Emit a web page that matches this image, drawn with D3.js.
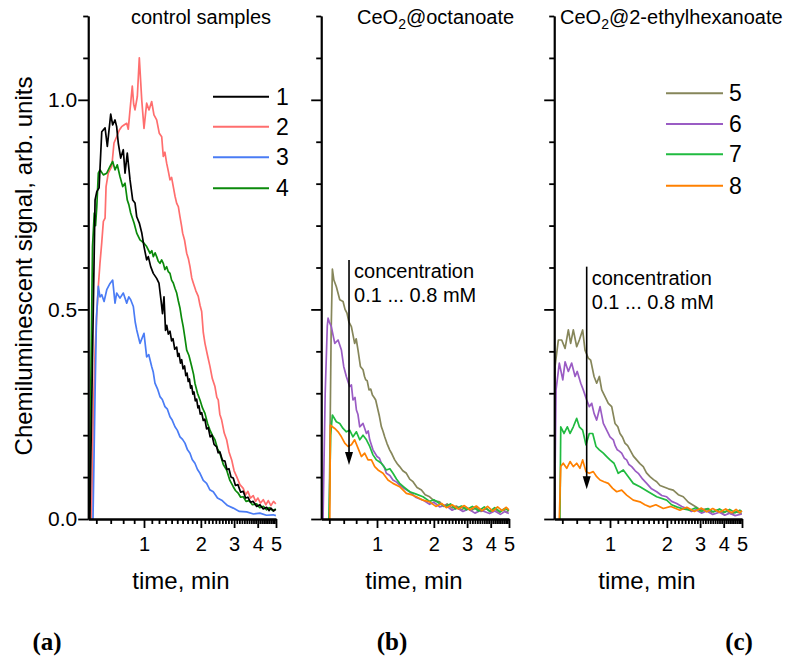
<!DOCTYPE html>
<html><head><meta charset="utf-8">
<script src="https://cdn.jsdelivr.net/npm/d3@7"></script>
<style>
body{margin:0;background:#fff;}
svg{display:block;font-family:"Liberation Sans",Arial,sans-serif;}
</style></head><body>
<svg id="chart" width="787" height="659"></svg>
<script>
// ---------------- data ----------------
const panelTitles = [
  [["control samples",""]],
  [["CeO",""],["2","sub"],["@octanoate",""]],
  [["CeO",""],["2","sub"],["@2-ethylhexanoate",""]]
];
const panelLetters = ["(a)","(b)","(c)"];
const xMajorTicks = [1,2,3,4,5];
const xMinorTicks = [0.6,0.7,0.8,0.9,1.1,1.2,1.3,1.4,1.5,1.6,1.7,1.8,1.9,2.1,2.2,2.3,2.4,2.5,2.6,2.7,2.8,2.9,3.1,3.2,3.3,3.4,3.5,3.6,3.7,3.8,3.9,4.1,4.2,4.3,4.4,4.5,4.6,4.7,4.8,4.9];
const yMajorTicks = [0,0.5,1.0];
const yMinorTicks = [0.1,0.2,0.3,0.4,0.6,0.7,0.8,0.9,1.1,1.2];
const xTitle = "time, min";
const yTitle = "Chemiluminescent signal, arb. units";

const seriesNames  = ["1","2","3","4","5","6","7","8"];
const seriesColors = ["#000000","#ff6e6e","#4a7cf5","#0b8a0b","#86865a","#9a5cc4","#20bb40","#ff8000"];

// control samples (panel a): [time, signal]
const s1 = [[0.560,0],[0.592,0.761],[0.603,0.781],[0.618,0.79],[0.636,0.924],[0.659,0.933],[0.675,0.889],[0.700,0.966],[0.715,0.940],[0.733,0.952],[0.746,0.936],[0.759,0.897],[0.779,0.861],[0.801,0.881],[0.816,0.825],[0.836,0.873],[0.861,0.809],[0.886,0.761],[0.908,0.754],[0.925,0.721],[0.951,0.706],[0.976,0.683],[1.0,0.650],[1.033,0.618],[1.054,0.626],[1.085,0.602],[1.120,0.586],[1.167,0.574],[1.200,0.563],[1.230,0.523],[1.253,0.49],[1.276,0.53],[1.300,0.45],[1.32,0.462],[1.345,0.441],[1.373,0.448],[1.40,0.425],[1.424,0.43],[1.455,0.405],[1.49,0.41],[1.51,0.388],[1.532,0.395],[1.56,0.372],[1.583,0.38],[1.61,0.358],[1.64,0.365],[1.665,0.342],[1.69,0.348],[1.715,0.328],[1.74,0.334],[1.765,0.312],[1.789,0.318],[1.815,0.298],[1.839,0.303],[1.87,0.282],[1.90,0.286],[1.93,0.265],[1.955,0.27],[1.985,0.25],[2.02,0.254],[2.06,0.235],[2.10,0.238],[2.145,0.215],[2.19,0.218],[2.24,0.196],[2.29,0.2],[2.35,0.178],[2.425,0.172],[2.47,0.158],[2.524,0.16],[2.6,0.14],[2.683,0.138],[2.75,0.118],[2.817,0.12],[2.89,0.1],[2.969,0.098],[3.05,0.08],[3.143,0.082],[3.25,0.064],[3.354,0.066],[3.45,0.05],[3.55,0.052],[3.66,0.04],[3.787,0.042],[3.95,0.03],[4.11,0.034],[4.28,0.024],[4.46,0.028],[4.6,0.02],[4.7,0.026],[4.85,0.019],[4.99,0.023]];
const s2 = [[0.570,0],[0.581,0.253],[0.592,0.40],[0.603,0.491],[0.614,0.56],[0.624,0.61],[0.636,0.66],[0.647,0.71],[0.659,0.718],[0.666,0.793],[0.682,0.825],[0.708,0.841],[0.725,0.897],[0.746,0.912],[0.768,0.928],[0.787,0.936],[0.807,0.940],[0.831,0.944],[0.845,0.93],[0.861,0.976],[0.882,1.033],[0.895,0.99],[0.908,0.976],[0.931,1.008],[0.951,1.100],[0.976,1.0],[1.0,0.932],[1.033,0.992],[1.063,0.976],[1.098,0.996],[1.129,0.964],[1.167,0.952],[1.205,0.920],[1.241,0.912],[1.265,0.865],[1.290,0.875],[1.318,0.849],[1.345,0.83],[1.373,0.809],[1.40,0.815],[1.429,0.793],[1.46,0.77],[1.490,0.753],[1.52,0.745],[1.551,0.721],[1.58,0.70],[1.602,0.682],[1.64,0.665],[1.683,0.634],[1.72,0.62],[1.752,0.602],[1.79,0.575],[1.824,0.563],[1.88,0.545],[1.938,0.531],[1.98,0.51],[2.020,0.495],[2.06,0.445],[2.103,0.419],[2.17,0.39],[2.235,0.364],[2.30,0.335],[2.375,0.316],[2.43,0.29],[2.472,0.284],[2.52,0.25],[2.578,0.236],[2.66,0.205],[2.739,0.189],[2.82,0.16],[2.913,0.141],[3.0,0.115],[3.095,0.101],[3.22,0.082],[3.354,0.073],[3.45,0.058],[3.55,0.066],[3.66,0.05],[3.787,0.056],[3.9,0.042],[4.01,0.05],[4.14,0.038],[4.28,0.046],[4.42,0.034],[4.55,0.044],[4.7,0.032],[4.85,0.042],[4.99,0.036]];
const s3 = [[0.579,0],[0.592,0.30],[0.601,0.48],[0.613,0.555],[0.624,0.53],[0.636,0.535],[0.652,0.519],[0.671,0.547],[0.695,0.562],[0.715,0.570],[0.733,0.515],[0.746,0.539],[0.773,0.527],[0.801,0.539],[0.831,0.515],[0.85,0.53],[0.867,0.523],[0.892,0.507],[0.91,0.47],[0.925,0.451],[0.958,0.419],[1.0,0.443],[1.033,0.387],[1.06,0.392],[1.098,0.364],[1.12,0.35],[1.143,0.324],[1.18,0.31],[1.215,0.292],[1.25,0.285],[1.291,0.268],[1.33,0.262],[1.373,0.244],[1.41,0.236],[1.459,0.220],[1.50,0.212],[1.551,0.196],[1.60,0.19],[1.648,0.181],[1.70,0.165],[1.752,0.157],[1.80,0.142],[1.861,0.133],[1.92,0.118],[1.979,0.109],[2.06,0.092],[2.146,0.085],[2.23,0.07],[2.327,0.065],[2.45,0.05],[2.578,0.045],[2.77,0.032],[2.969,0.026],[3.2,0.018],[3.494,0.017],[3.8,0.012],[4.110,0.014],[4.45,0.009],[4.83,0.010],[4.99,0.008]];
const s4 = [[0.558,0],[0.565,0.3],[0.576,0.65],[0.587,0.730],[0.595,0.70],[0.603,0.745],[0.613,0.825],[0.624,0.833],[0.647,0.821],[0.671,0.825],[0.695,0.841],[0.715,0.853],[0.733,0.833],[0.751,0.845],[0.773,0.817],[0.796,0.793],[0.816,0.801],[0.836,0.761],[0.85,0.75],[0.867,0.730],[0.899,0.706],[0.925,0.682],[0.958,0.666],[1.0,0.658],[1.033,0.650],[1.076,0.634],[1.10,0.64],[1.120,0.626],[1.145,0.635],[1.167,0.626],[1.19,0.615],[1.215,0.610],[1.24,0.618],[1.265,0.610],[1.29,0.595],[1.318,0.602],[1.345,0.59],[1.373,0.586],[1.40,0.57],[1.429,0.563],[1.46,0.55],[1.490,0.539],[1.52,0.52],[1.551,0.503],[1.58,0.48],[1.613,0.459],[1.65,0.43],[1.683,0.403],[1.73,0.39],[1.789,0.364],[1.83,0.345],[1.861,0.324],[1.92,0.3],[1.979,0.284],[2.04,0.265],[2.103,0.252],[2.17,0.228],[2.235,0.212],[2.30,0.2],[2.375,0.189],[2.45,0.168],[2.524,0.157],[2.63,0.13],[2.739,0.117],[2.85,0.092],[2.969,0.077],[3.05,0.068],[3.15,0.062],[3.25,0.052],[3.354,0.053],[3.47,0.042],[3.6,0.044],[3.75,0.034],[3.947,0.036],[4.1,0.027],[4.3,0.03],[4.45,0.022],[4.6,0.027],[4.8,0.02],[4.99,0.024]];

// CeO2@octanoate (panel b)
const s5b = [[0.599,0],[0.612,0.45],[0.620,0.596],[0.63,0.57],[0.647,0.554],[0.671,0.523],[0.695,0.519],[0.71,0.50],[0.725,0.491],[0.74,0.47],[0.760,0.459],[0.787,0.419],[0.80,0.43],[0.816,0.403],[0.837,0.364],[0.861,0.356],[0.875,0.34],[0.886,0.332],[0.90,0.33],[0.918,0.308],[0.935,0.31],[0.952,0.296],[0.97,0.29],[0.986,0.284],[1.012,0.260],[1.03,0.245],[1.055,0.220],[1.075,0.21],[1.098,0.196],[1.13,0.18],[1.167,0.165],[1.2,0.155],[1.241,0.141],[1.28,0.132],[1.318,0.125],[1.37,0.115],[1.431,0.109],[1.49,0.095],[1.551,0.089],[1.63,0.075],[1.719,0.069],[1.8,0.058],[1.900,0.053],[2.0,0.044],[2.146,0.041],[2.25,0.03],[2.35,0.036],[2.5,0.026],[2.63,0.031],[2.8,0.022],[2.95,0.028],[3.15,0.02],[3.357,0.027],[3.55,0.018],[3.8,0.025],[4.0,0.017],[4.2,0.024],[4.45,0.016],[4.65,0.023],[4.84,0.016],[4.99,0.021]];
const s6b = [[0.561,0],[0.574,0.30],[0.587,0.46],[0.592,0.479],[0.60,0.47],[0.613,0.459],[0.636,0.419],[0.659,0.427],[0.683,0.403],[0.700,0.364],[0.720,0.340],[0.746,0.316],[0.76,0.32],[0.773,0.284],[0.79,0.29],[0.802,0.260],[0.815,0.25],[0.831,0.220],[0.861,0.228],[0.893,0.204],[0.91,0.21],[0.925,0.189],[0.958,0.165],[1.0,0.149],[1.03,0.145],[1.055,0.133],[1.09,0.125],[1.121,0.109],[1.17,0.104],[1.215,0.093],[1.27,0.088],[1.318,0.081],[1.40,0.072],[1.490,0.065],[1.6,0.052],[1.752,0.045],[1.9,0.035],[2.0,0.04],[2.146,0.029],[2.3,0.033],[2.5,0.021],[2.65,0.027],[2.851,0.018],[3.05,0.024],[3.3,0.014],[3.55,0.021],[3.947,0.013],[4.2,0.019],[4.5,0.011],[4.75,0.018],[4.99,0.013]];
const s7b = [[0.598,0],[0.609,0.20],[0.620,0.248],[0.647,0.232],[0.671,0.228],[0.695,0.216],[0.720,0.208],[0.746,0.212],[0.773,0.196],[0.802,0.208],[0.831,0.189],[0.861,0.200],[0.893,0.189],[0.925,0.173],[0.958,0.153],[0.994,0.141],[1.055,0.133],[1.121,0.117],[1.17,0.12],[1.215,0.109],[1.27,0.095],[1.318,0.085],[1.40,0.075],[1.490,0.065],[1.6,0.06],[1.752,0.053],[1.9,0.042],[2.0,0.046],[2.146,0.037],[2.3,0.03],[2.45,0.036],[2.6,0.024],[2.8,0.031],[2.97,0.022],[3.2,0.03],[3.45,0.019],[3.7,0.029],[3.95,0.018],[4.2,0.027],[4.5,0.017],[4.75,0.025],[4.99,0.02]];
const s8b = [[0.603,0],[0.607,0.224],[0.636,0.216],[0.659,0.208],[0.683,0.196],[0.708,0.181],[0.733,0.173],[0.760,0.177],[0.787,0.189],[0.816,0.169],[0.846,0.149],[0.876,0.157],[0.908,0.141],[0.942,0.141],[0.976,0.125],[1.012,0.117],[1.076,0.109],[1.143,0.093],[1.215,0.085],[1.318,0.077],[1.431,0.061],[1.52,0.058],[1.616,0.053],[1.75,0.045],[1.900,0.041],[2.05,0.03],[2.2,0.037],[2.33,0.027],[2.5,0.034],[2.7,0.024],[2.9,0.032],[3.1,0.022],[3.357,0.031],[3.6,0.02],[3.85,0.03],[4.1,0.019],[4.35,0.029],[4.6,0.02],[4.84,0.028],[4.99,0.022]];

// CeO2@2-ethylhexanoate (panel c)
const s5c = [[0.552,0],[0.555,0.364],[0.575,0.427],[0.596,0.427],[0.618,0.407],[0.640,0.451],[0.656,0.419],[0.675,0.451],[0.700,0.411],[0.720,0.427],[0.746,0.451],[0.765,0.403],[0.792,0.384],[0.813,0.379],[0.843,0.340],[0.867,0.324],[0.892,0.340],[0.915,0.308],[0.948,0.292],[0.982,0.276],[1.021,0.268],[1.063,0.228],[1.10,0.22],[1.129,0.204],[1.165,0.195],[1.200,0.181],[1.24,0.175],[1.276,0.165],[1.33,0.15],[1.384,0.141],[1.44,0.132],[1.500,0.125],[1.56,0.11],[1.628,0.101],[1.70,0.094],[1.767,0.089],[1.84,0.08],[1.915,0.077],[2.04,0.072],[2.162,0.069],[2.3,0.058],[2.443,0.053],[2.6,0.04],[2.76,0.033],[2.9,0.027],[3.0,0.021],[3.25,0.024],[3.45,0.016],[3.7,0.021],[3.95,0.014],[4.15,0.019],[4.4,0.012],[4.65,0.017],[4.99,0.013]];
const s6c = [[0.552,0],[0.561,0.308],[0.581,0.372],[0.603,0.332],[0.618,0.375],[0.640,0.352],[0.663,0.372],[0.688,0.340],[0.704,0.352],[0.731,0.324],[0.751,0.308],[0.779,0.284],[0.801,0.268],[0.822,0.276],[0.843,0.252],[0.867,0.236],[0.899,0.268],[0.931,0.228],[0.965,0.212],[1.0,0.196],[1.041,0.189],[1.065,0.175],[1.093,0.165],[1.12,0.162],[1.153,0.157],[1.19,0.145],[1.225,0.141],[1.26,0.13],[1.303,0.125],[1.36,0.115],[1.412,0.109],[1.49,0.095],[1.564,0.085],[1.66,0.072],[1.767,0.065],[1.88,0.056],[1.996,0.053],[2.12,0.042],[2.255,0.037],[2.4,0.03],[2.548,0.025],[2.7,0.018],[2.85,0.022],[3.05,0.014],[3.25,0.019],[3.5,0.011],[3.8,0.016],[4.05,0.009],[4.3,0.014],[4.6,0.008],[4.99,0.012]];
const s7c = [[0.585,0],[0.590,0.220],[0.611,0.204],[0.633,0.220],[0.652,0.204],[0.675,0.220],[0.700,0.240],[0.720,0.220],[0.746,0.212],[0.773,0.177],[0.801,0.204],[0.831,0.204],[0.861,0.173],[0.892,0.165],[0.931,0.157],[0.965,0.149],[1.0,0.141],[1.050,0.133],[1.106,0.109],[1.176,0.117],[1.250,0.101],[1.328,0.085],[1.441,0.077],[1.594,0.065],[1.767,0.053],[1.996,0.045],[2.12,0.034],[2.255,0.029],[2.45,0.024],[2.650,0.021],[2.85,0.027],[3.05,0.018],[3.3,0.025],[3.52,0.017],[3.8,0.024],[4.05,0.016],[4.3,0.023],[4.6,0.015],[4.87,0.021],[4.99,0.017]];
const s8c = [[0.581,0],[0.590,0.125],[0.606,0.133],[0.629,0.121],[0.652,0.137],[0.675,0.125],[0.700,0.133],[0.725,0.121],[0.746,0.141],[0.773,0.113],[0.801,0.109],[0.836,0.113],[0.867,0.101],[0.899,0.093],[0.938,0.089],[0.982,0.085],[1.033,0.073],[1.085,0.065],[1.153,0.069],[1.225,0.057],[1.328,0.045],[1.441,0.041],[1.53,0.034],[1.628,0.029],[1.75,0.034],[1.915,0.025],[2.1,0.03],[2.346,0.021],[2.55,0.028],[2.8,0.018],[3.05,0.026],[3.25,0.017],[3.5,0.025],[3.8,0.016],[4.1,0.024],[4.4,0.015],[4.65,0.023],[4.87,0.015],[4.99,0.02]];

const panelSeries = [
  [[s2,1],[s3,2],[s4,3],[s1,0]],
  [[s5b,4],[s6b,5],[s7b,6],[s8b,7]],
  [[s5c,4],[s6c,5],[s7c,6],[s8c,7]]
];
const legendA = [0,1,2,3];
const legendC = [4,5,6,7];

// concentration arrows (panels b and c): time, top value, tip value
const arrowPanels = [1,2];
const arrowTime   = [0.741,0.779];
const arrowTop    = [0.618,0.602];
const arrowTip    = [0.129,0.071];
const arrowText   = ["concentration","0.1 ... 0.8 mM"];

// ---------------- layout ----------------
const svg = d3.select("#chart");
svg.append("rect").attr("width",787).attr("height",659).attr("fill","#fff");
const offsets = [0,233,466];
const y = d3.scaleLinear().domain([0,1.2]).range([519,16]);
const xs = offsets.map(o => d3.scaleLog().domain([0.55,1,5]).range([88.2+o,144+o,276+o]));

function styleAxis(g, w){
  g.select(".domain").attr("stroke","#000").attr("stroke-width",w);
  g.selectAll(".tick line").attr("stroke","#000").attr("stroke-width",w);
  g.attr("font-family",null).attr("font-size",null);
}

xs.forEach((x,i)=>{
  const gp = svg.append("g");
  const line = d3.line().x(d=>x(d[0])).y(d=>y(d[1]));
  panelSeries[i].forEach(([data,ci])=>{
    gp.append("path").datum(data).attr("d",line).attr("fill","none")
      .attr("stroke",seriesColors[ci]).attr("stroke-width",1.7).attr("stroke-linejoin","round");
  });
  const xmin = gp.append("g").attr("transform","translate(0,519)")
    .call(d3.axisBottom(x).tickValues(xMinorTicks).tickSize(5).tickSizeOuter(0).tickFormat(""));
  styleAxis(xmin,1.8);
  const xmaj = gp.append("g").attr("transform","translate(0,519)")
    .call(d3.axisBottom(x).tickValues(xMajorTicks).tickSize(9).tickSizeOuter(0).tickPadding(9).tickFormat(d3.format("d")));
  styleAxis(xmaj,1.8);
  xmaj.selectAll(".tick text").attr("font-size",20).attr("fill","#000");
  const y0 = x.range()[0];
  const ymin = gp.append("g").attr("transform",`translate(${y0},0)`)
    .call(d3.axisLeft(y).tickValues(yMinorTicks).tickSize(5).tickSizeOuter(0).tickFormat(""));
  styleAxis(ymin,1.8);
  const ymaj = gp.append("g").attr("transform",`translate(${y0},0)`)
    .call(d3.axisLeft(y).tickValues(yMajorTicks).tickSize(10).tickSizeOuter(0).tickPadding(1)
      .tickFormat(i===0 ? d3.format(".1f") : ""));
  styleAxis(ymaj,1.8);
  ymaj.selectAll(".tick text").attr("font-size",21).attr("fill","#000");
  gp.append("text").attr("x",181+offsets[i]).attr("y",589).attr("text-anchor","middle")
    .attr("font-size",24).text(xTitle);
  const tx = [131,357,560][i];
  const t = gp.append("text").attr("x",tx).attr("y",29).attr("font-size",20);
  panelTitles[i].forEach(([s,k])=>{
    if(k==="sub") t.append("tspan").attr("font-size",14).attr("dy",5).text(s);
    else t.append("tspan").attr("dy", t.selectAll("tspan").size()>0 ? -5 : 0).text(s);
  });
  gp.append("text").attr("x",[47,392,739][i]).attr("y",650).attr("text-anchor","middle")
    .attr("font-family","'Liberation Serif','Times New Roman',serif").attr("font-weight","bold")
    .attr("font-size",25).text(panelLetters[i]);
});

svg.append("text").attr("transform","translate(32,266) rotate(-90)").attr("text-anchor","middle")
  .attr("font-size",24).text(yTitle);

function legend(items, x1, x2, ys, tx){
  items.forEach((ci,k)=>{
    svg.append("line").attr("x1",x1).attr("x2",x2).attr("y1",ys[k]).attr("y2",ys[k])
      .attr("stroke",seriesColors[ci]).attr("stroke-width",2);
    svg.append("text").attr("x",tx).attr("y",ys[k]+8).attr("font-size",23).text(seriesNames[ci]);
  });
}
legend(legendA,213,269,[96.7,126.7,157.3,188.3],276);
legend(legendC,666,723,[93.3,124,154.3,185.7],729);

arrowPanels.forEach((p,k)=>{
  const x = xs[p];
  const ax = x(arrowTime[k]), ay1 = y(arrowTop[k]), ay2 = y(arrowTip[k]);
  svg.append("line").attr("x1",ax).attr("x2",ax).attr("y1",ay1).attr("y2",ay2-10)
    .attr("stroke","#000").attr("stroke-width",1.6);
  svg.append("path").attr("d",`M${ax-4},${ay2-13}L${ax+4},${ay2-13}L${ax},${ay2}Z`).attr("fill","#000");
  arrowText.forEach((s,j)=>{
    svg.append("text").attr("x",ax+5).attr("y",ay1+18+j*24).attr("font-size",20).text(s);
  });
});
</script></body></html>
